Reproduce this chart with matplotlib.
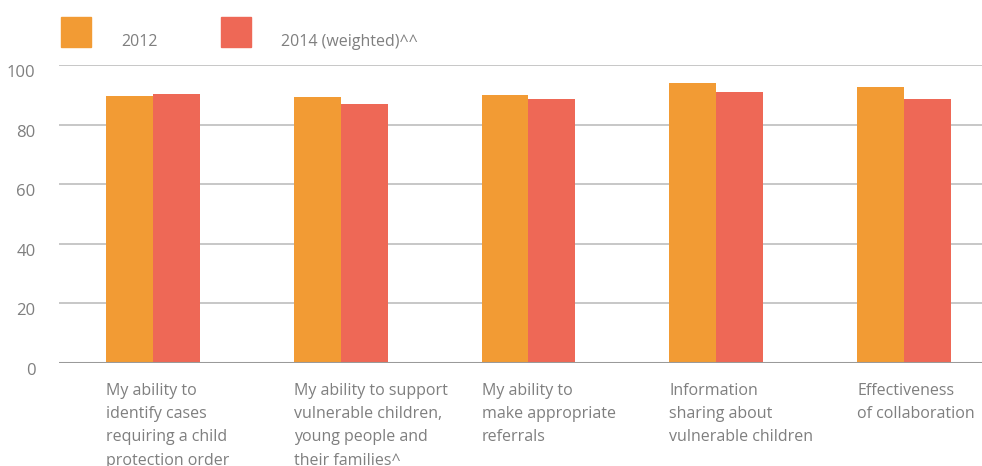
import matplotlib.pyplot as plt
import matplotlib.transforms as mtransforms
from matplotlib.patches import Rectangle
import numpy as np

plt.rcParams['font.family'] = ['Open Sans', 'DejaVu Sans']

# data
categories = [
    "My ability to\nidentify cases\nrequiring a child\nprotection order",
    "My ability to support\nvulnerable children,\nyoung people and\ntheir families^",
    "My ability to\nmake appropriate\nreferrals",
    "Information\nsharing about\nvulnerable children",
    "Effectiveness\nof collaboration",
]
values_2012 = [89.6, 89.3, 89.9, 94.0, 92.6]
values_2014 = [90.3, 86.9, 88.6, 90.9, 88.6]
series_names = ["2012", "2014 (weighted)^^"]
yticks = [0, 20, 40, 60, 80, 100]

c_2012 = '#F29B34'
c_2014 = '#EE6856'
grey_txt = '#7f7f7f'

W, H = 982, 466
fig = plt.figure(figsize=(W / 100, H / 100), dpi=100)
ax = fig.add_axes([59 / W, (H - 363) / H, (W - 59) / W, (363 - 65) / H])

x = np.arange(len(categories))
bw = 0.25
ax.bar(x - bw / 2, values_2012, bw, color=c_2012, zorder=3)
ax.bar(x + bw / 2, values_2014, bw, color=c_2014, zorder=3)

ax.set_xlim(-0.5, 4.415)
ax.set_ylim(0, 100)
for s in ax.spines.values():
    s.set_visible(False)
ax.set_yticks(yticks)
ax.set_xticks([])
for t in yticks[1:]:
    ax.axhline(t, color='#bdbdbd', lw=1.2, zorder=1)
ax.axhline(0, color='#9a9a9a', lw=2.2, zorder=4)
ax.tick_params(axis='y', length=0, pad=17, labelsize=12, labelcolor=grey_txt)
offset = mtransforms.ScaledTranslation(0, -6 / 100, fig.dpi_scale_trans)
for lab in ax.get_yticklabels():
    lab.set_transform(lab.get_transform() + offset)

# category labels, left-aligned under the first bar of each group
trans = mtransforms.blended_transform_factory(ax.transData, fig.transFigure)
for i, name in enumerate(categories):
    ax.text(x[i] - bw, (H - 383) / H, name, transform=trans, ha='left', va='top',
            fontsize=11.5, color=grey_txt, linespacing=1.6, clip_on=False)

# legend
fig.patches.append(Rectangle((61 / W, (H - 47) / H), 30 / W, 30 / H,
                             transform=fig.transFigure, color=c_2012))
fig.patches.append(Rectangle((221 / W, (H - 47) / H), 30 / W, 30 / H,
                             transform=fig.transFigure, color=c_2014))
fig.text(121 / W, (H - 46) / H, series_names[0], ha='left', va='baseline',
         fontsize=11.5, color=grey_txt)
fig.text(281 / W, (H - 46) / H, series_names[1], ha='left', va='baseline',
         fontsize=11.5, color=grey_txt)

fig.savefig('out.png', dpi=100)
